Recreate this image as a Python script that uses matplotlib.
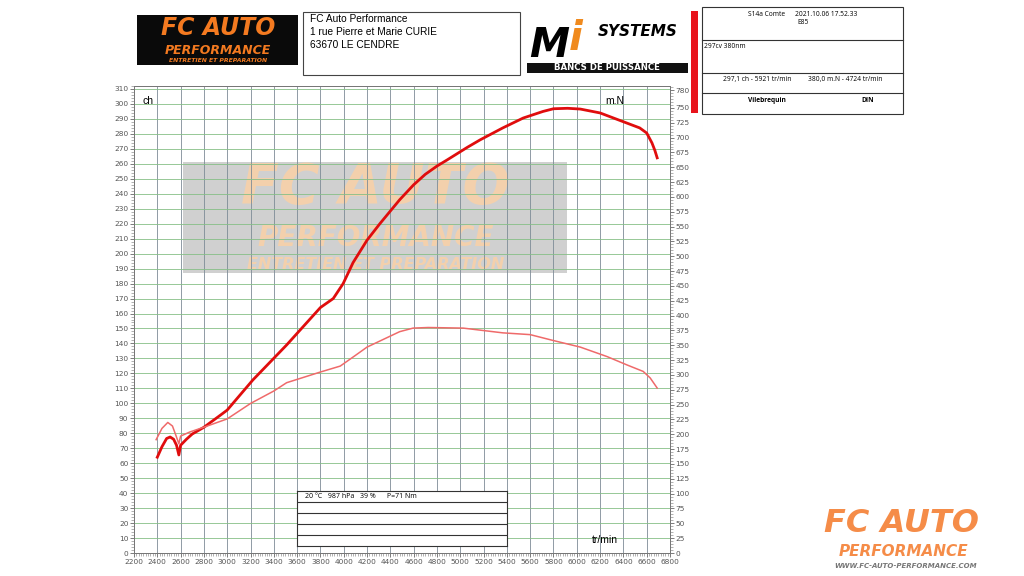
import matplotlib
matplotlib.use("Agg")
import matplotlib.pyplot as plt
from matplotlib.patches import Rectangle
from matplotlib.ticker import MultipleLocator, FixedLocator

# power curve (ch, left axis)
rpm_power = [2400, 2440, 2480, 2510, 2540, 2565, 2585, 2600, 2650, 2700, 2800, 2940, 3000,
             3220, 3510, 3800, 3910, 3995, 4080, 4200, 4310, 4480, 4600, 4700, 4800, 4885,
             5060, 5170, 5365, 5540, 5710, 5800, 5921, 6030, 6200, 6370, 6540, 6600, 6645,
             6670, 6690]
power_ch = [64, 71, 76.5, 77.5, 76, 72, 65.5, 72, 76, 79.5, 84, 92, 95.5,
            115.6, 139, 164, 170, 180, 194, 209, 220, 236, 246, 253, 258.5, 262.5,
            271, 276, 284, 290.6, 295, 296.8, 297.1, 296.6, 294, 289, 284, 280.6, 274,
            269, 264]

# torque curve (m.N, right axis)
rpm_torque = [2390, 2440, 2490, 2530, 2560, 2585, 2600, 2680, 2800, 3000, 3200, 3400, 3510,
              3800, 3970, 4100, 4200, 4480, 4595, 4724, 5025, 5365, 5600, 5800, 6030, 6260,
              6430, 6570, 6630, 6690]
torque_nm = [191, 210, 220, 214, 198, 184, 197, 204, 212, 226, 252, 273, 287,
             305, 315, 333, 347, 373, 379, 380, 379, 371, 368, 358, 347, 331,
             317, 306, 295, 278]

ticks_ch = list(range(0, 311, 10))
ticks_nm = list(range(0, 751, 25)) + [780]
ticks_rpm = list(range(2200, 6801, 200))

address = ["FC Auto Performance", "1 rue Pierre et Marie CURIE", "63670 LE CENDRE"]
conditions = "20 °C   987 hPa   39 %      P=71 Nm"

ORANGE = "#f47a20"
TXT = "Liberation Sans"
LOGO = "DejaVu Sans"

fig = plt.figure(figsize=(10.24, 5.76), dpi=100)

# overlay in pixel coordinates for the header blocks
bg = fig.add_axes([0, 0, 1, 1])
bg.set_xlim(0, 1024)
bg.set_ylim(576, 0)
bg.axis("off")

# FC Auto logo (top left)
bg.add_patch(Rectangle((137, 15), 161, 50, fc="#0a0a0a", ec="none"))
bg.text(218, 28, "FC AUTO", color=ORANGE, fontsize=17, fontweight="heavy",
        fontstyle="italic", ha="center", va="center", family=LOGO)
bg.text(218, 50, "PERFORMANCE", color=ORANGE, fontsize=9, fontweight="bold",
        fontstyle="italic", ha="center", va="center", family=LOGO)
bg.text(218, 61, "ENTRETIEN ET PREPARATION", color=ORANGE, fontsize=4.4, fontweight="bold",
        fontstyle="italic", ha="center", va="center", family=LOGO)

# address box
bg.add_patch(Rectangle((303, 12), 217, 63, fc="white", ec="#444", lw=0.8))
for i, line in enumerate(address):
    bg.text(310, 19 + i * 13, line, fontsize=7.3, ha="left", va="center", family=TXT)

# MI systems logo
bg.text(549, 46, "M", fontsize=29, fontweight="heavy", fontstyle="italic",
        ha="center", va="center", family=LOGO)
bg.text(576, 39, "i", fontsize=29, fontweight="heavy", fontstyle="italic", color="#f08a1e",
        ha="center", va="center", family=LOGO)
bg.text(638, 31, "SYSTEMS", fontsize=11, fontweight="heavy", fontstyle="italic",
        ha="center", va="center", family=LOGO)
bg.add_patch(Rectangle((527, 63), 161, 10, fc="#111", ec="none"))
bg.text(607, 68, "BANCS DE PUISSANCE", color="white", fontsize=6.2, fontweight="bold",
        ha="center", va="center", family=LOGO)

# info table (top right)
bg.add_patch(Rectangle((691, 11), 7, 102, fc="#e8141c", ec="none"))
bg.add_patch(Rectangle((702, 7), 201, 107, fc="white", ec="#333", lw=0.8))
for yy in (40, 73, 93):
    bg.plot([702, 903], [yy, yy], color="#333", lw=0.8)
bg.text(767, 14, "S14a Comte", fontsize=4.8, ha="center", va="center", family="Open Sans")
bg.text(826, 14, "2021.10.06 17.52.33", fontsize=4.8, ha="center", va="center", family="Open Sans")
bg.text(803, 23, "E85", fontsize=4.8, ha="center", va="center", family="Open Sans")
bg.text(704, 46, "297cv 380nm", fontsize=4.8, ha="left", va="center", family="Open Sans")
bg.text(757, 80, "297,1 ch - 5921 tr/min", fontsize=4.8, ha="center", va="center", family="Open Sans")
bg.text(845, 80, "380,0 m.N - 4724 tr/min", fontsize=4.8, ha="center", va="center", family="Open Sans")
bg.text(767, 101, "Vilebrequin", fontsize=4.8, fontweight="bold", ha="center", va="center", family="Open Sans")
bg.text(868, 101, "DIN", fontsize=4.8, fontweight="bold", ha="center", va="center", family="Open Sans")

# bottom right logo
bg.text(902, 523, "FC AUTO", color="#f58c48", fontsize=23, fontweight="heavy",
        fontstyle="italic", ha="center", va="center", family=LOGO)
bg.text(903, 551, "PERFORMANCE", color="#f58c48", fontsize=11, fontweight="bold",
        fontstyle="italic", ha="center", va="center", family=LOGO)
bg.text(906, 566, "WWW.FC-AUTO-PERFORMANCE.COM", color="#777", fontsize=5, fontweight="bold",
        fontstyle="italic", ha="center", va="center", family=LOGO)

# main chart
ax = fig.add_axes([134 / 1024, 23 / 576, 536 / 1024, 467 / 576])
ax.set_xlim(2200, 6800)
ax.set_ylim(0, 312)
ax2 = ax.twinx()
ax2.set_ylim(0, 787)

ax.set_axisbelow(True)
ax.xaxis.set_major_locator(FixedLocator(ticks_rpm))
ax.xaxis.set_minor_locator(MultipleLocator(20))
ax.yaxis.set_major_locator(FixedLocator(ticks_ch))
ax.yaxis.set_minor_locator(MultipleLocator(2))
ax2.yaxis.set_major_locator(FixedLocator(ticks_nm))
ax2.yaxis.set_minor_locator(MultipleLocator(5))
ax.grid(axis="x", color="#7d8b96", lw=0.6)
ax.grid(axis="y", color="#86bf86", lw=0.6)

for a in (ax, ax2):
    a.tick_params(which="major", length=3, width=0.6, color="#666", labelsize=5.3,
                  labelcolor="#555", pad=1)
    a.tick_params(which="minor", length=2, width=0.4, color="#777")
    for sp in a.spines.values():
        sp.set_color("#777")
        sp.set_linewidth(0.7)

# watermark
ax.add_patch(Rectangle((2620, 187), 3300, 74, fc="#bdbdbd", ec="none", alpha=0.7, zorder=0.2))
ax.text(4270, 243.8, "FC AUTO", color="#f8d0a8", alpha=0.9, fontsize=40, fontweight="heavy",
        fontstyle="italic", ha="center", va="center", family=LOGO, zorder=0.3)
ax.text(4277, 210.4, "PERFORMANCE", color="#f8d0a8", alpha=0.9, fontsize=20, fontweight="bold",
        fontstyle="italic", ha="center", va="center", family=LOGO, zorder=0.3)
ax.text(4277, 193, "ENTRETIEN ET PREPARATION", color="#f8d0a8", alpha=0.9, fontsize=11.5,
        fontweight="bold", fontstyle="italic", ha="center", va="center", family=LOGO,
        zorder=0.3)

ax2.plot(rpm_torque, torque_nm, color="#ef6a6a", lw=1.1)
ax.plot(rpm_power, power_ch, color="#e00d0d", lw=2.0)

ax.text(2320, 302, "ch", fontsize=7.5, ha="center", va="center", family=TXT)
ax.text(6330, 302, "m.N", fontsize=7.5, ha="center", va="center", family=TXT)
ax.text(6240, 9, "tr/min", fontsize=7.5, ha="center", va="center", family=TXT)

# test conditions box
box = fig.add_axes([297 / 1024, (576 - 546) / 576, 210 / 1024, 55 / 576])
box.set_xlim(0, 1)
box.set_ylim(5, 0)
box.set_xticks([])
box.set_yticks([])
for sp in box.spines.values():
    sp.set_color("#333")
    sp.set_linewidth(0.8)
for yy in (1, 2, 3, 4):
    box.axhline(yy, color="#333", lw=0.8)
box.text(0.04, 0.5, conditions, fontsize=5, ha="left", va="center", family="Open Sans")

fig.savefig("out.png", dpi=100)
